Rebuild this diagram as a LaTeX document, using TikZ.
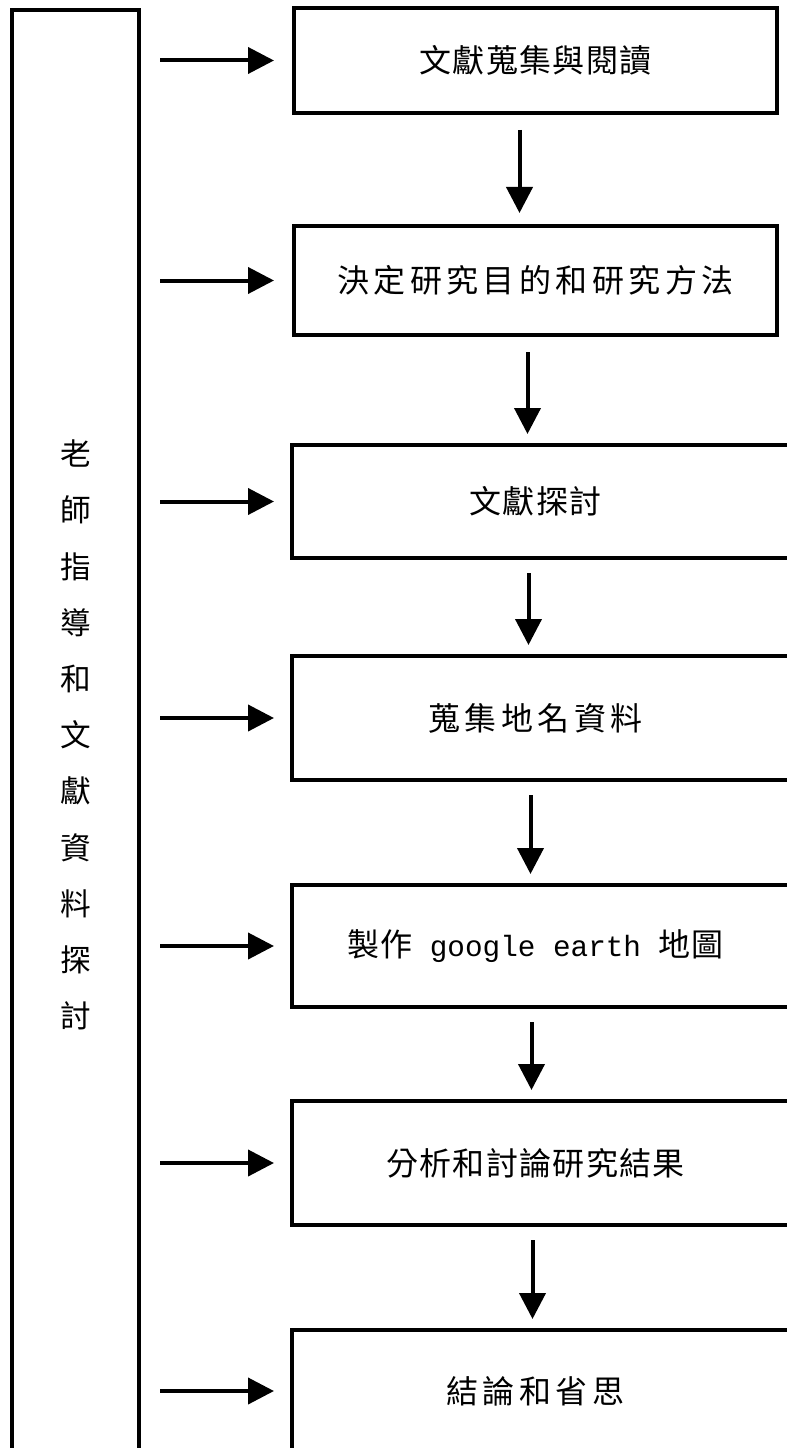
\documentclass[tikz,border=0pt]{standalone}
\usepackage{fontspec}
\usetikzlibrary{arrows.meta}
\newfontfamily\cjk[LetterSpace=4]{Noto Sans CJK TC}
\newfontfamily\cjkwide[LetterSpace=14]{Noto Sans CJK TC}
\newfontfamily\cjkcol{Noto Sans CJK TC}
\newfontfamily\latn{Liberation Mono}

\tikzset{every picture/.style={line width=0.75pt}}
\tikzset{
  stepbox/.style={draw, line width=3pt, minimum width=362.25pt, inner sep=0pt, font=\cjk\fontsize{24}{28}\selectfont},
  openbox/.style={stepbox, draw=none},
  flow/.style={line width=3pt, -{Triangle[length=19.5pt,width=19.5pt]}},
}

\begin{document}
\begin{tikzpicture}[x=0.75pt,y=0.75pt,yscale=-1,xscale=1]
\useasboundingbox (0,0) rectangle (787,1448);

%Shape: Rectangle
\node [draw, line width=3pt, minimum width=95.25pt, minimum height=1087.5pt, inner sep=0pt, align=center, font=\cjkcol\fontsize{23}{42.15}\selectfont] (guide) at (75.5,735) {老\\師\\指\\導\\和\\文\\獻\\資\\料\\探\\討};

%Shape: Rectangle
\node [stepbox, minimum height=78.75pt] (s1) at (535.5,60.5) {文獻蒐集與閱讀};
%Shape: Rectangle
\node [stepbox, minimum height=81.75pt, font=\cjkwide\fontsize{24}{28}\selectfont] (s2) at (535.5,280.5) {決定研究目的和研究方法};
%Shape: Rectangle
\node [openbox, minimum height=81.75pt] (s3) at (535.5,501.5) {文獻探討};
%Shape: Rectangle
\node [openbox, minimum height=90pt, font=\cjkwide\fontsize{24}{28}\selectfont] (s4) at (535.5,718) {蒐集地名資料};
%Shape: Rectangle
\node [openbox, minimum height=88.5pt] (s5) at (535.5,946) {製作{\latn\fontsize{22}{26}\selectfont\ google earth }地圖};
%Shape: Rectangle
\node [openbox, minimum height=90pt] (s6) at (535.5,1163) {分析和討論研究結果};
%Shape: Rectangle
\node [openbox, minimum height=88.5pt, font=\cjkwide\fontsize{24}{28}\selectfont] (s7) at (535.5,1391) {結論和省思};

% open right side
\foreach \s in {s3,s4,s5,s6,s7}
  \draw [line width=3pt] ([xshift=30pt]\s.north east) -- (\s.north west) -- (\s.south west) -- ([xshift=30pt]\s.south east);

%Straight Lines
\foreach \s in {s1,s2,s3,s4,s5,s6,s7}
  \draw [flow, shorten <=14.25pt, shorten >=13.5pt] (guide.east |- \s.west) -- (\s.west);

%Straight Lines
\foreach \a/\b/\dx in {s1/s2/-16, s2/s3/-8, s3/s4/-7, s4/s5/-5, s5/s6/-4, s6/s7/-3}
  \draw [flow, shorten <=11.25pt, shorten >=8.25pt] ([xshift=\dx*0.75pt]\a.south) -- ([xshift=\dx*0.75pt]\b.north);

\end{tikzpicture}
\end{document}
